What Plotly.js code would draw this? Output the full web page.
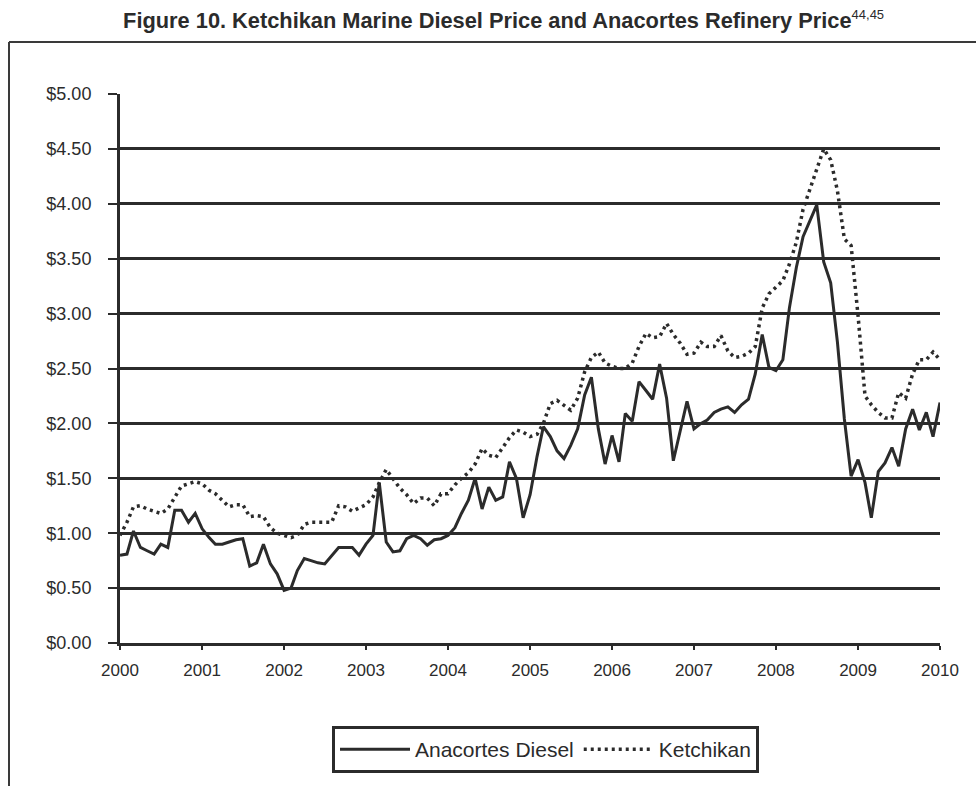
<!DOCTYPE html>
<html>
<head>
<meta charset="utf-8">
<script src="https://cdn.plot.ly/plotly-3.0.1.min.js"></script>
<style>
  html, body { margin: 0; padding: 0; background: #ffffff; }
  #chart { width: 976px; height: 786px; }
</style>
</head>
<body>
<div id="chart"></div>
<script>
// Monthly observations, January 2000 through January 2010
const startYear = 2000;
const seriesNames = ["Anacortes Diesel", "Ketchikan"];

const anacortesDiesel = [
  0.80, 0.81, 1.02, 0.87, 0.84, 0.81, 0.90, 0.87, 1.21, 1.21, 1.10, 1.18,
  1.04, 0.96, 0.90, 0.90, 0.92, 0.94, 0.95, 0.70, 0.73, 0.90, 0.72, 0.63,
  0.48, 0.50, 0.66, 0.77, 0.75, 0.73, 0.72, 0.80, 0.87, 0.87, 0.87, 0.80,
  0.90, 0.98, 1.46, 0.92, 0.83, 0.84, 0.95, 0.98, 0.95, 0.89, 0.94, 0.95,
  0.98, 1.05, 1.18, 1.30, 1.50, 1.22, 1.42, 1.30, 1.33, 1.65, 1.50, 1.14,
  1.35, 1.70, 1.97, 1.88, 1.75, 1.68, 1.80, 1.95, 2.26, 2.42, 1.95, 1.63,
  1.89, 1.65, 2.09, 2.02, 2.38, 2.30, 2.22, 2.54, 2.23, 1.66, 1.95, 2.20,
  1.95, 2.00, 2.03, 2.10, 2.13, 2.15, 2.10, 2.17, 2.22, 2.45, 2.81, 2.51,
  2.48, 2.58, 3.05, 3.42, 3.70, 3.85, 3.99, 3.47, 3.28, 2.74, 2.04, 1.52,
  1.67, 1.46, 1.14, 1.56, 1.64, 1.78, 1.61, 1.95, 2.13, 1.94, 2.10, 1.88,
  2.19
];

const ketchikan = [
  0.98, 1.10, 1.24, 1.25, 1.22, 1.20, 1.18, 1.22, 1.33, 1.43, 1.45, 1.47,
  1.45, 1.39, 1.36, 1.30, 1.24, 1.26, 1.26, 1.15, 1.16, 1.15, 1.05, 1.00,
  0.98, 0.96, 0.98, 1.08, 1.10, 1.10, 1.10, 1.10, 1.25, 1.24, 1.20, 1.23,
  1.26, 1.33, 1.46, 1.58, 1.49, 1.41, 1.35, 1.27, 1.32, 1.32, 1.25, 1.36,
  1.36, 1.44, 1.50, 1.55, 1.63, 1.77, 1.71, 1.69, 1.78, 1.87, 1.94, 1.92,
  1.88, 1.90, 2.00, 2.18, 2.21, 2.16, 2.12, 2.23, 2.47, 2.60, 2.65, 2.55,
  2.52, 2.50, 2.50, 2.55, 2.70, 2.82, 2.78, 2.79, 2.91, 2.81, 2.73, 2.63,
  2.64, 2.74, 2.70, 2.70, 2.80, 2.66, 2.60, 2.61, 2.64, 2.70, 3.05, 3.18,
  3.24, 3.30, 3.45, 3.65, 3.95, 4.13, 4.32, 4.50, 4.40, 4.12, 3.68, 3.62,
  2.98, 2.25, 2.17, 2.10, 2.05, 2.05, 2.28, 2.23, 2.45, 2.58, 2.58, 2.65,
  2.58
];

const yTickVals = [0, 0.5, 1, 1.5, 2, 2.5, 3, 3.5, 4, 4.5, 5];
const yTickText = ["$0.00", "$0.50", "$1.00", "$1.50", "$2.00", "$2.50",
                   "$3.00", "$3.50", "$4.00", "$4.50", "$5.00"];
const xTickVals = ["2000-01-01", "2001-01-01", "2002-01-01", "2003-01-01",
                   "2004-01-01", "2005-01-01", "2006-01-01", "2007-01-01",
                   "2008-01-01", "2009-01-01", "2010-01-01"];
const xTickText = ["2000", "2001", "2002", "2003", "2004", "2005",
                   "2006", "2007", "2008", "2009", "2010"];

// month stamps for the x axis
const months = [];
for (let i = 0; i < anacortesDiesel.length; i++) {
  const y = startYear + Math.floor(i / 12);
  const m = (i % 12) + 1;
  months.push(y + "-" + (m < 10 ? "0" + m : m) + "-01");
}

const traces = [
  {
    x: months, y: anacortesDiesel, name: seriesNames[0],
    type: "scatter", mode: "lines",
    line: { color: "#2b2b2b", width: 3, dash: "solid" }
  },
  {
    x: months, y: ketchikan, name: seriesNames[1],
    type: "scatter", mode: "lines",
    line: { color: "#2b2b2b", width: 3.5, dash: "3px,4px" }
  }
];

const font = "Liberation Sans, Arial, sans-serif";

// frame in paper coordinates of the plot area (l=120, r=940, t=94, b=643)
function px2x(px) { return (px - 120) / 820; }
function py2y(py) { return (643 - py) / 549; }

const layout = {
  width: 976, height: 786,
  paper_bgcolor: "#ffffff", plot_bgcolor: "#ffffff",
  margin: { l: 120, r: 36, t: 94, b: 143, pad: 0 },
  font: { family: font, color: "#2b2b2b" },
  title: {
    text: "<b>Figure 10. Ketchikan Marine Diesel Price and Anacortes Refinery Price</b><sup><span style=\"font-size:13px\">44,45</span></sup>",
    font: { family: font, size: 21.8, color: "#2b2b2b" },
    xref: "container", yref: "container",
    x: 0.516, xanchor: "center", y: 0.974, yanchor: "middle"
  },
  xaxis: {
    type: "date",
    range: ["2000-01-01", "2010-01-01"],
    tickmode: "array", tickvals: xTickVals, ticktext: xTickText,
    ticks: "outside", ticklen: 4, tickwidth: 2, tickcolor: "#2b2b2b",
    ticklabelstandoff: 6,
    showgrid: false, zeroline: false,
    showline: true, linecolor: "#2b2b2b", linewidth: 3,
    tickfont: { family: font, size: 17, color: "#2b2b2b" },
    fixedrange: true
  },
  yaxis: {
    range: [0, 5],
    tickmode: "array", tickvals: yTickVals, ticktext: yTickText,
    ticks: "outside", ticklen: 9, tickwidth: 2, tickcolor: "#2b2b2b",
    ticklabelstandoff: 13,
    showgrid: true, gridcolor: "#2b2b2b", gridwidth: 3,
    zeroline: false,
    showline: true, linecolor: "#2b2b2b", linewidth: 3,
    tickfont: { family: font, size: 18, color: "#2b2b2b" },
    fixedrange: true
  },
  showlegend: true,
  legend: {
    orientation: "h",
    x: px2x(332), xanchor: "left",
    y: py2y(726), yanchor: "top",
    bordercolor: "#2b2b2b", borderwidth: 3,
    bgcolor: "#ffffff",
    font: { family: font, size: 21, color: "#2b2b2b" },
    itemwidth: 70,
    traceorder: "normal"
  },
  shapes: [
    { type: "line", xref: "paper", yref: "paper",
      x0: px2x(9), x1: px2x(976), y0: py2y(42), y1: py2y(42),
      line: { color: "#3a3a3a", width: 2 } },
    { type: "line", xref: "paper", yref: "paper",
      x0: px2x(9), x1: px2x(9), y0: py2y(42), y1: py2y(786),
      line: { color: "#3a3a3a", width: 2 } }
  ]
};

Plotly.newPlot("chart", traces, layout, { displayModeBar: false, staticPlot: true });
</script>
</body>
</html>
